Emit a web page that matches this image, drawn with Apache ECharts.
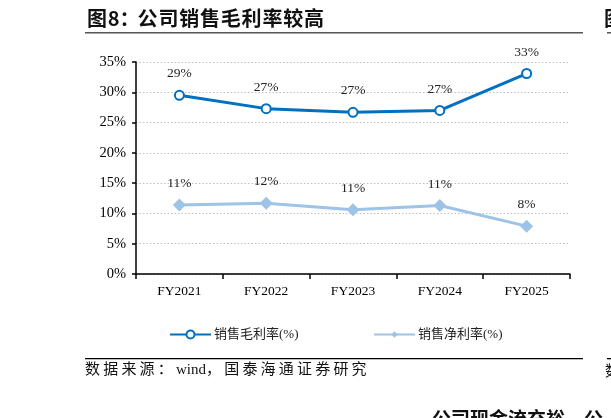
<!DOCTYPE html>
<html>
<head>
<meta charset="utf-8">
<script src="https://cdn.jsdelivr.net/npm/echarts@6/dist/echarts.min.js"></script>
<style>
html,body{margin:0;padding:0;background:#fff;}
#c{width:611px;height:418px;}
</style>
</head>
<body>
<div id="c"></div>
<script>
var categories = ['FY2021', 'FY2022', 'FY2023', 'FY2024', 'FY2025'];
var grossMargin = [29.5, 27.3, 26.7, 27.0, 33.1];
var netMargin = [11.4, 11.7, 10.6, 11.3, 7.9];
var grossLabels = ['29%', '27%', '27%', '27%', '33%'];
var netLabels = ['11%', '12%', '11%', '11%', '8%'];
var seriesNames = ['销售毛利率(%)', '销售净利率(%)'];
var titleText = '图8：公司销售毛利率较高';
var sourceText = '数据来源：wind，国泰海通证券研究';

var serif = '"Liberation Serif","Times New Roman",serif';
var cjk = '"Liberation Serif","Noto Sans CJK SC",serif';

// lay out a string char by char with a fixed pitch for CJK glyphs
function spacedText(str, x, y, font, cjkPitch, punctPitch) {
  var cv = document.createElement('canvas').getContext('2d');
  cv.font = font;
  var out = [];
  var cx = x;
  var buf = '';
  function flush() {
    if (buf) {
      out.push({type: 'text', x: cx, y: y, style: {text: buf, font: font, fill: '#111'}});
      cx += cv.measureText(buf).width;
      buf = '';
    }
  }
  for (var i = 0; i < str.length; i++) {
    var ch = str[i];
    if (ch.charCodeAt(0) > 255) {
      flush();
      out.push({type: 'text', x: cx, y: y, style: {text: ch, font: font, fill: '#111'}});
      cx += (ch === '：' && punctPitch) ? punctPitch : cjkPitch;
    } else {
      buf += ch;
    }
  }
  flush();
  return out;
}

var graphics = [
  {type: 'rect', shape: {x: 85, y: 32, width: 498, height: 1.5}, style: {fill: '#555'}},
  {type: 'text', left: 604, top: 8, style: {text: '图', font: 'bold 20px "Noto Sans CJK SC"', fill: '#111'}},
  {type: 'rect', shape: {x: 607, y: 32, width: 4, height: 1.5}, style: {fill: '#555'}},
  {type: 'rect', shape: {x: 85, y: 358, width: 498, height: 1.3}, style: {fill: '#000'}},
  {type: 'rect', shape: {x: 607, y: 358, width: 4, height: 1.3}, style: {fill: '#000'}},
  {type: 'text', left: 605, top: 363, style: {text: '数', font: '15px "Noto Sans CJK SC"', fill: '#111'}},
  {type: 'text', left: 432, top: 409, style: {text: '公司现金流充裕，公', font: 'bold 19px "Noto Sans CJK SC"', fill: '#111'}}
].concat(
  spacedText(titleText, 87, 8, 'bold 20px "Noto Sans CJK SC"', 20.8, 18),
  spacedText(sourceText, 85, 363, '15px "Liberation Serif","Noto Sans CJK SC"', 18.2)
);

var chart = echarts.init(document.getElementById('c'), null, {renderer: 'canvas'});
chart.setOption({
  animation: false,
  backgroundColor: '#fff',
  grid: {left: 136, right: 41, top: 62, bottom: 144, containLabel: false},
  xAxis: {
    type: 'category',
    data: categories,
    boundaryGap: true,
    axisLine: {lineStyle: {color: '#000', width: 1.5}},
    axisTick: {show: true, length: 5, lineStyle: {color: '#000', width: 1.5}},
    axisLabel: {color: '#000', fontFamily: serif, fontSize: 13.5, margin: 10}
  },
  yAxis: {
    type: 'value',
    min: 0, max: 35, interval: 5,
    axisLine: {show: true, lineStyle: {color: '#000', width: 1.5}},
    axisTick: {show: true, length: 4, lineStyle: {color: '#000', width: 1.5}},
    axisLabel: {color: '#000', fontFamily: serif, fontSize: 14.5, margin: 10, formatter: '{value}%'},
    splitLine: {show: true, lineStyle: {color: '#bfbfbf', type: [1.5, 2], width: 1}}
  },
  legend: [
    {
      data: [seriesNames[0]],
      left: 169, top: 328, padding: 0,
      itemWidth: 41, itemHeight: 10, itemGap: 4,
      textStyle: {fontFamily: cjk, fontSize: 13, color: '#222', padding: [0, 0, 0, -2]}
    },
    {
      data: [seriesNames[1]],
      left: 373, top: 328, padding: 0,
      itemWidth: 41, itemHeight: 8, itemGap: 4,
      textStyle: {fontFamily: cjk, fontSize: 13, color: '#222', padding: [0, 0, 0, -2]}
    }
  ],
  series: [
    {
      name: seriesNames[0],
      type: 'line',
      data: grossMargin,
      symbol: 'emptyCircle',
      symbolSize: 9,
      lineStyle: {color: '#0070C0', width: 3},
      itemStyle: {color: '#0070C0', borderColor: '#0070C0', borderWidth: 2},
      label: {
        show: true, position: 'top', distance: 9,
        fontFamily: serif, fontSize: 13.5, color: '#222',
        formatter: function (p) { return grossLabels[p.dataIndex]; }
      },
      z: 3
    },
    {
      name: seriesNames[1],
      type: 'line',
      data: netMargin,
      symbol: 'diamond',
      symbolSize: 13,
      lineStyle: {color: '#9DC3E6', width: 3},
      itemStyle: {color: '#9DC3E6'},
      label: {
        show: true, position: 'top', distance: 8,
        fontFamily: serif, fontSize: 13.5, color: '#222',
        formatter: function (p) { return netLabels[p.dataIndex]; }
      },
      z: 2
    }
  ],
  graphic: graphics
});
</script>
</body>
</html>
